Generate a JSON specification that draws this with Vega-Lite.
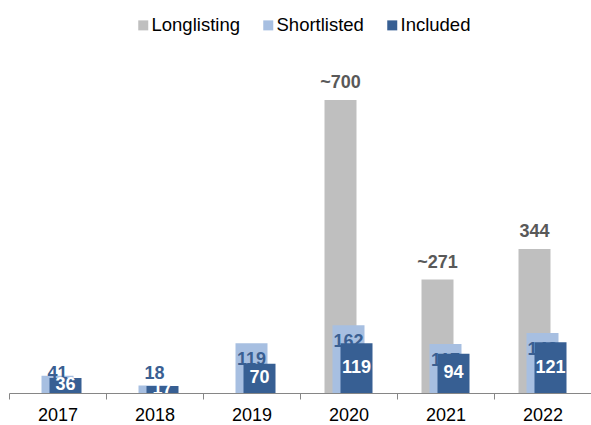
{
  "$schema": "https://vega.github.io/schema/vega-lite/v6.json",
  "width": 582,
  "height": 335,
  "autosize": "none",
  "padding": {"left": 9, "top": 58, "right": 0, "bottom": 32},
  "data": {
    "values": [
      {"year": "2017", "series": "Shortlisted", "value": 41, "label": "41"},
      {"year": "2017", "series": "Included", "value": 36, "label": "36"},
      {"year": "2018", "series": "Shortlisted", "value": 18, "label": "18"},
      {"year": "2018", "series": "Included", "value": 17, "label": "17"},
      {"year": "2019", "series": "Shortlisted", "value": 119, "label": "119"},
      {"year": "2019", "series": "Included", "value": 70, "label": "70"},
      {"year": "2020", "series": "Longlisting", "value": 700, "label": "~700"},
      {"year": "2020", "series": "Shortlisted", "value": 162, "label": "162"},
      {"year": "2020", "series": "Included", "value": 119, "label": "119"},
      {"year": "2021", "series": "Longlisting", "value": 271, "label": "~271"},
      {"year": "2021", "series": "Shortlisted", "value": 117, "label": "117"},
      {"year": "2021", "series": "Included", "value": 94, "label": "94"},
      {"year": "2022", "series": "Longlisting", "value": 344, "label": "344"},
      {"year": "2022", "series": "Shortlisted", "value": 143, "label": "143"},
      {"year": "2022", "series": "Included", "value": 121, "label": "121"}
    ]
  },
  "encoding": {
    "x": {
      "field": "year",
      "type": "ordinal",
      "scale": {"paddingInner": 0, "paddingOuter": 0},
      "axis": {
        "title": null,
        "labelAngle": 0,
        "domainColor": "#868686",
        "tickColor": "#868686",
        "tickSize": 6,
        "tickBand": "extent",
        "labelFontSize": 18,
        "labelColor": "#000000",
        "labelPadding": 7,
        "labelFont": "Liberation Sans",
        "grid": false
      }
    }
  },
  "layer": [
    {
      "transform": [{"filter": "datum.series === 'Longlisting'"}],
      "mark": {"type": "bar", "width": 32, "xOffset": -8},
      "encoding": {
        "y": {"field": "value", "type": "quantitative", "scale": {"domain": [0, 800]}, "axis": null},
        "color": {
          "field": "series",
          "type": "nominal",
          "scale": {"domain": ["Longlisting", "Shortlisted", "Included"], "range": ["#bfbfbf", "#a7bfe1", "#375f93"]},
          "legend": {
            "title": null,
            "orient": "none",
            "legendX": 125,
            "legendY": -42,
            "direction": "horizontal",
            "symbolType": "square",
            "symbolSize": 100,
            "symbolStrokeWidth": 0,
            "labelFontSize": 18.5,
            "labelFont": "Liberation Sans",
            "labelColor": "#000000",
            "labelOffset": -1,
            "columnPadding": 19
          }
        }
      }
    },
    {
      "transform": [{"filter": "datum.series === 'Longlisting'"}],
      "mark": {"type": "text", "xOffset": -8, "baseline": "alphabetic", "dy": -12, "fontSize": 18, "fontWeight": "bold", "font": "Liberation Sans", "color": "#595959"},
      "encoding": {
        "y": {"field": "value", "type": "quantitative", "scale": {"domain": [0, 800]}, "axis": null},
        "text": {"field": "label"}
      }
    },
    {
      "transform": [{"filter": "datum.series === 'Shortlisted'"}],
      "mark": {"type": "bar", "width": 32, "xOffset": 0},
      "encoding": {
        "y": {"field": "value", "type": "quantitative", "scale": {"domain": [0, 800]}, "axis": null},
        "color": {"field": "series", "type": "nominal"}
      }
    },
    {
      "transform": [{"filter": "datum.series === 'Shortlisted'"}],
      "mark": {"type": "text", "baseline": "top", "dy": 8, "fontSize": 18, "fontWeight": "bold", "font": "Liberation Sans", "color": "#3a5f92"},
      "encoding": {
        "y": {"field": "value", "type": "quantitative", "scale": {"domain": [86, 800], "range": [299, 0], "clamp": true, "zero": false}, "axis": null},
        "text": {"field": "label"}
      }
    },
    {
      "transform": [{"filter": "datum.series === 'Included'"}],
      "mark": {"type": "bar", "width": 32, "xOffset": 8},
      "encoding": {
        "y": {"field": "value", "type": "quantitative", "scale": {"domain": [0, 800]}, "axis": null},
        "color": {"field": "series", "type": "nominal"}
      }
    },
    {
      "transform": [{"filter": "datum.series === 'Included'"}],
      "mark": {"type": "text", "xOffset": 8, "baseline": "middle", "clip": true, "fontSize": 18, "fontWeight": "bold", "font": "Liberation Sans", "color": "#ffffff"},
      "encoding": {
        "y": {"field": "value", "type": "quantitative", "scale": {"domain": [0, 1600]}, "axis": null},
        "text": {"field": "label"}
      }
    }
  ],
  "resolve": {"scale": {"y": "independent"}},
  "config": {"view": {"stroke": null}, "font": "Liberation Sans"}
}
